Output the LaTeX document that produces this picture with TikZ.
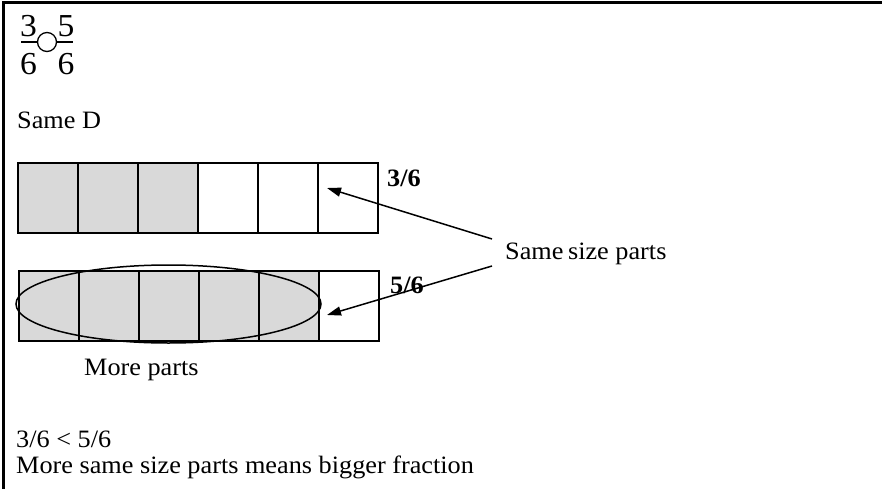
\documentclass[tikz,border=0pt]{standalone}
\usepackage{fontspec}
\setmainfont[FakeStretch=1.05]{Liberation Serif}
\usetikzlibrary{arrows.meta,shapes.geometric}
\definecolor{cellgray}{HTML}{D9D9D9}
\tikzset{
  txt/.style={font=\fontsize{25}{30}\selectfont, inner sep=0pt, anchor=base west},
  btxt/.style={font=\fontsize{25}{30}\selectfont\bfseries, inner sep=0pt, anchor=base west},
  frac/.style={font=\fontsize{32}{36}\selectfont, inner sep=0pt, anchor=base},
  cell/.style={draw, line width=2.2pt, minimum width=60pt, minimum height=70pt, inner sep=0pt, anchor=north west},
  shaded/.style={cell, fill=cellgray},
  arr/.style={line width=1.5pt, -{Triangle[length=14pt,width=9pt]}},
  frame/.style={line width=2.6pt},
}
\begin{document}
\begin{tikzpicture}[x=1pt,y=-1pt]
\useasboundingbox (0,0) rectangle (882,489);
% frame
\draw[frame] (882,2.5) -- (3.5,2.5) -- (3.5,489);
% fraction comparison
\node[frac] (n1) at (28.5,37) {3};
\node[frac] (d1) at (28.5,75) {6};
\node[frac] (n2) at (66,37) {5};
\node[frac] (d2) at (66,75) {6};
\node[draw, circle, line width=1.3pt, minimum size=19pt, inner sep=0pt] (cmp) at (47,42) {};
\draw[line width=2pt] (21,42) -- (cmp.west);
\draw[line width=2pt] (cmp.east) -- (73,42);
% Same D
\node[txt] (sameD) at (17,129) {Same D};
% top bar 3/6
\foreach \i in {0,...,5}{
  \pgfmathsetmacro{\xx}{17+60*\i}
  \ifnum\i<3
    \node[shaded] (t\i) at (\xx,162) {};
  \else
    \node[cell] (t\i) at (\xx,162) {};
  \fi
}
% bottom bar 5/6
\foreach \i in {0,...,5}{
  \pgfmathsetmacro{\xx}{18+60*\i}
  \ifnum\i<5
    \node[shaded] (b\i) at (\xx,270) {};
  \else
    \node[cell] (b\i) at (\xx,270) {};
  \fi
}
% ellipse round the shaded parts
\node[draw, ellipse, line width=1.5pt, minimum width=305pt, minimum height=78pt, inner sep=0pt] (ell) at (168.5,304) {};
% labels
\node[btxt] (l36) at (387,186) {3/6};
\node[btxt] (l56) at (390,293) {5/6};
\node[txt] (same) at (505,259) {Same\hspace{-2pt} size parts};
\node[txt] (more) at (84,375) {More parts};
\node[txt] (ineq) at (16,447) {3/6 < 5/6};
\node[txt] (concl) at (16,473) {More same size parts means bigger fraction};
% arrows
\coordinate (s1) at (492,239);
\coordinate (s2) at (492,266);
\coordinate (p1) at (327,188);
\coordinate (p2) at (327,315);
\draw[arr] (s1) -- (p1);
\draw[arr] (s2) -- (p2);
\end{tikzpicture}
\end{document}
